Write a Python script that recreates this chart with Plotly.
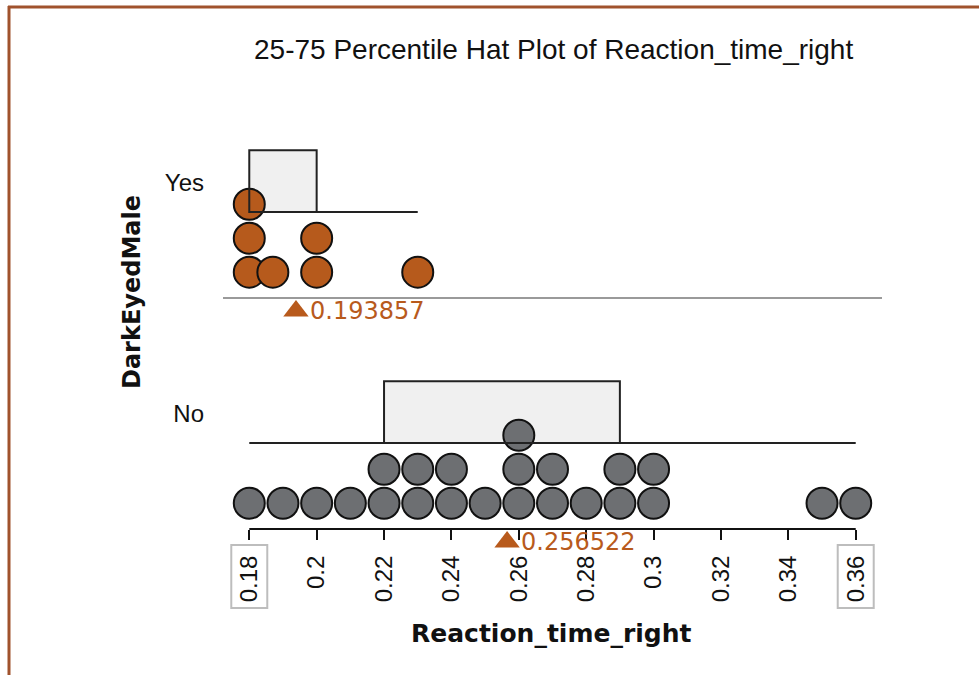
import numpy as np
import plotly.graph_objects as go

# ---------------- data ----------------
groups = ["No", "Yes"]
no_times = [0.18, 0.19, 0.20, 0.21, 0.22, 0.22, 0.23, 0.23, 0.24, 0.24, 0.25,
            0.26, 0.26, 0.26, 0.27, 0.27, 0.28, 0.29, 0.29, 0.30, 0.30, 0.35, 0.36]
yes_times = [0.18, 0.18, 0.18, 0.187, 0.20, 0.20, 0.23]
tick_values = [0.18, 0.20, 0.22, 0.24, 0.26, 0.28, 0.30, 0.32, 0.34, 0.36]
tick_labels = ["0.18", "0.2", "0.22", "0.24", "0.26", "0.28", "0.3", "0.32", "0.34", "0.36"]
boxed_ticks = [0.18, 0.36]

title_text = "25-75 Percentile Hat Plot of Reaction_time_right"
x_title = "Reaction_time_right"
y_title = "DarkEyedMale"

# ---------------- styling / geometry ----------------
W, H = 979, 675
M_L, M_R, M_T, M_B = 223, 97, 67, 60
PLOT_W = W - M_L - M_R
PLOT_H = H - M_T - M_B
X_PAD = 0.0078
BAND = 6.8        # height of one group band, in dot pitches
Y_FLOOR = -2.53   # room under the number line for the mean markers
ROW0 = 0.76       # centre of the first dot row above the band floor
BRIM = 2.53       # hat brim height
HAT_TOP = 4.35    # top of the 25-75 box
MEAN_Y = -0.38    # mean marker below the band floor
DOT_SIZE = 31
DOT_COLORS = {"No": "#6d6f72", "Yes": "#b65a1c"}
ACCENT = "#b85a1c"
FRAME = "#a0522d"
HAT_FILL = "#f0f0f0"
HAT_LINE = "#222222"
SANS = "Liberation Sans"
WIDE = "DejaVu Sans"

data_by_group = {"No": no_times, "Yes": yes_times}


def stack_rows(values):
    """Row index of each dot when equal values are piled on top of one another."""
    counts, rows = {}, []
    for v in values:
        k = round(v, 6)
        rows.append(counts.get(k, 0))
        counts[k] = counts.get(k, 0) + 1
    return rows


def px_x(px):
    return (px - M_L) / PLOT_W


def px_y(py):
    return (H - M_B - py) / PLOT_H


fig = go.Figure()
shapes = []
annotations = []

for gi, g in enumerate(groups):
    vals = np.array(data_by_group[g], dtype=float)
    base = gi * BAND
    rows = stack_rows(vals)
    fig.add_trace(go.Scatter(
        x=vals, y=[base + ROW0 + r for r in rows], mode="markers",
        marker=dict(size=DOT_SIZE, color=DOT_COLORS[g],
                    line=dict(color="#111111", width=2)),
        hoverinfo="x", showlegend=False, cliponaxis=False))

    q1 = float(np.percentile(vals, 25, method="inverted_cdf"))
    q3 = float(np.percentile(vals, 75, method="inverted_cdf"))
    lo, hi = float(vals.min()), float(vals.max())

    # hat: filled box behind the dots, outline and brim on top
    shapes.append(dict(type="rect", xref="x", yref="y", x0=q1, x1=q3,
                       y0=base + BRIM, y1=base + HAT_TOP,
                       fillcolor=HAT_FILL, line=dict(width=0), layer="below"))
    shapes.append(dict(type="rect", xref="x", yref="y", x0=q1, x1=q3,
                       y0=base + BRIM, y1=base + HAT_TOP,
                       fillcolor="rgba(0,0,0,0)", line=dict(color=HAT_LINE, width=2),
                       layer="above"))
    shapes.append(dict(type="line", xref="x", yref="y", x0=lo, x1=hi,
                       y0=base + BRIM, y1=base + BRIM,
                       line=dict(color=HAT_LINE, width=2), layer="above"))

    # mean marker and value
    m = float(np.mean(vals))
    fig.add_trace(go.Scatter(
        x=[m], y=[base + MEAN_Y], mode="markers",
        marker=dict(symbol="triangle-up", size=22, color=ACCENT),
        hoverinfo="x", showlegend=False, cliponaxis=False))
    annotations.append(dict(x=m, y=base + MEAN_Y, xref="x", yref="y",
                            text=f"{m:.6f}", showarrow=False,
                            xanchor="left", yanchor="middle", xshift=12,
                            font=dict(family=WIDE, size=24, color=ACCENT)))

# separator between the two groups
shapes.append(dict(type="line", xref="paper", yref="y", x0=0, x1=1,
                   y0=BAND, y1=BAND, line=dict(color="#9a9a9a", width=2)))

# number line from first to last tick
shapes.append(dict(type="line", xref="x", yref="y", x0=tick_values[0], x1=tick_values[-1],
                   y0=0, y1=0, line=dict(color="#111111", width=2)))

# boxes around the end tick labels
for tv in boxed_ticks:
    shapes.append(dict(type="rect", xref="x", yref="y", xsizemode="pixel", ysizemode="pixel",
                       xanchor=tv, yanchor=0, x0=-18, x1=18, y0=-16, y1=-79,
                       line=dict(color="#bdbdbd", width=2), fillcolor="rgba(0,0,0,0)"))

# outer frame (left and top edges)
shapes.append(dict(type="line", xref="paper", yref="paper",
                   x0=px_x(9), x1=px_x(9), y0=px_y(6), y1=px_y(H + 5),
                   line=dict(color=FRAME, width=3)))
shapes.append(dict(type="line", xref="paper", yref="paper",
                   x0=px_x(8), x1=px_x(W + 5), y0=px_y(7), y1=px_y(7),
                   line=dict(color=FRAME, width=3)))

# titles
annotations.append(dict(text=title_text, xref="paper", yref="paper",
                        x=px_x(553), y=px_y(50), showarrow=False,
                        xanchor="center", yanchor="middle",
                        font=dict(family=SANS, size=28, color="#111111")))
annotations.append(dict(text=f"<b>{x_title}</b>", xref="paper", yref="paper",
                        x=px_x(551), y=px_y(633), showarrow=False,
                        xanchor="center", yanchor="middle",
                        font=dict(family=WIDE, size=25, color="#111111")))
annotations.append(dict(text=f"<b>{y_title}</b>", xref="paper", yref="paper",
                        x=px_x(132), y=px_y(292), showarrow=False, textangle=-90,
                        xanchor="center", yanchor="middle",
                        font=dict(family=WIDE, size=24, color="#111111")))

y_span = 2 * BAND - Y_FLOOR
fig.update_layout(
    width=W, height=H,
    margin=dict(l=M_L, r=M_R, t=M_T, b=M_B, pad=0),
    paper_bgcolor="white", plot_bgcolor="white",
    shapes=shapes, annotations=annotations,
    xaxis=dict(range=[tick_values[0] - X_PAD, tick_values[-1] + X_PAD],
               anchor="free", position=-Y_FLOOR / y_span,
               tickvals=tick_values, ticktext=tick_labels, tickangle=-90,
               ticks="outside", ticklen=10, tickwidth=2, tickcolor="#111111",
               ticklabelstandoff=6,
               tickfont=dict(family=SANS, size=24, color="#111111"),
               showline=False, showgrid=False, zeroline=False, fixedrange=True),
    yaxis=dict(range=[Y_FLOOR, 2 * BAND], tickvals=[BAND * (i + 0.5) for i in range(len(groups))],
               ticktext=groups, ticks="", ticklabelstandoff=18,
               tickfont=dict(family=SANS, size=24, color="#111111"),
               showline=False, showgrid=False, zeroline=False, fixedrange=True),
)

fig.write_html("out.html")
